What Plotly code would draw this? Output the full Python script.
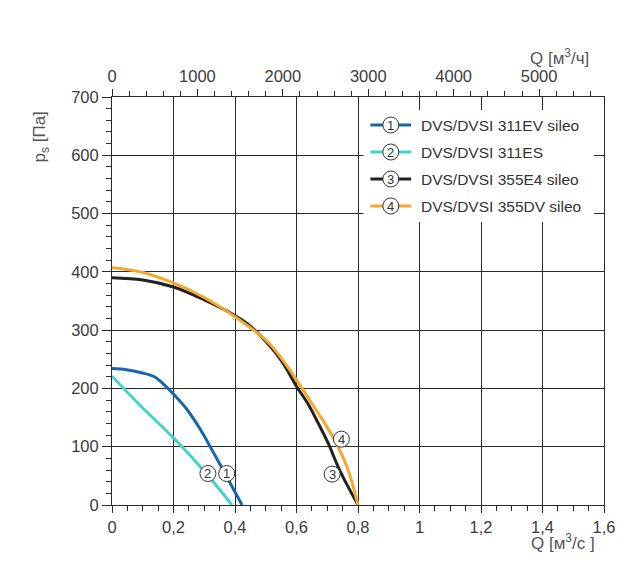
import plotly.graph_objects as go

# ---------------- data ----------------
names = ["DVS/DVSI 311EV sileo", "DVS/DVSI 311ES", "DVS/DVSI 355E4 sileo", "DVS/DVSI 355DV sileo"]
numbers = ["1", "2", "3", "4"]
colors = ["#1667aa", "#3dd5cc", "#222222", "#f4a82e"]

q1 = [0, 0.047, 0.095, 0.138, 0.17, 0.202, 0.245, 0.288, 0.331, 0.385, 0.423]
p1 = [234, 232, 227, 220, 206, 189, 163, 129, 89, 37, 0]

q2 = [0, 0.095, 0.202, 0.31, 0.39]
p2 = [221, 169, 114, 52, 0]

q3 = [0, 0.10, 0.20, 0.30, 0.38, 0.445, 0.51, 0.553, 0.601, 0.639, 0.671, 0.703, 0.735, 0.768, 0.80]
p3 = [390, 386, 374, 352, 331, 309, 275, 246, 203, 172, 140, 106, 66, 31, 0]

q4 = [0, 0.10, 0.20, 0.30, 0.40, 0.51, 0.601, 0.649, 0.692, 0.735, 0.768, 0.80]
p4 = [407, 399, 381, 356, 323, 278, 214, 175, 140, 100, 60, 0]

series_q = [q1, q2, q3, q4]
series_p = [p1, p2, p3, p4]

# curve label positions (Q [m3/s], p [Pa])
label_q = [0.373, 0.312, 0.716, 0.746]
label_p = [54, 54, 53, 113]

x_ticks = [0, 0.2, 0.4, 0.6, 0.8, 1.0, 1.2, 1.4, 1.6]
x_ticktext = ["0", "0,2", "0,4", "0,6", "0,8", "1", "1,2", "1,4", "1,6"]
x2_ticks = [0, 1000, 2000, 3000, 4000, 5000]
y_ticks = [0, 100, 200, 300, 400, 500, 600, 700]

# ---------------- layout helpers ----------------
W, H = 627, 562
L, R, T, B = 112, 607, 97, 505


def px(xp):
    return (xp - L) / (R - L)


def py(yp):
    return (B - yp) / (B - T)


FONT = "Liberation Sans, Arial, sans-serif"
TXT = "#3c3c3c"
AX = "#2a2a2a"

fig = go.Figure()
for q, p, c, n in zip(series_q, series_p, colors, names):
    fig.add_trace(go.Scatter(x=q, y=p, mode="lines", name=n,
                             line=dict(color=c, width=3, shape="spline", smoothing=1.0),
                             showlegend=False, hoverinfo="skip"))
# invisible trace for the top axis (m3/h)
fig.add_trace(go.Scatter(x=[0, 5760], y=[0, 0], xaxis="x2", mode="lines",
                         line=dict(width=0), showlegend=False, hoverinfo="skip"))

shapes = []
annotations = []

# curve labels
for qv, pv, num in zip(label_q, label_p, numbers):
    shapes.append(dict(type="circle", xref="x", yref="y", xsizemode="pixel", ysizemode="pixel",
                       xanchor=qv, yanchor=pv, x0=-8, x1=8, y0=-8, y1=8,
                       fillcolor="white", line=dict(color="#333333", width=1)))
    annotations.append(dict(x=qv, y=pv, xref="x", yref="y", text=num, showarrow=False,
                            xanchor="center", yanchor="middle",
                            font=dict(family=FONT, size=13, color="#333333")))

# custom legend
shapes.append(dict(type="rect", xref="paper", yref="paper", x0=px(365), x1=px(597),
                   y0=py(222), y1=py(110), fillcolor="white", line=dict(width=0)))
rows = [125, 152, 179, 206]
for yr, c, num, n in zip(rows, colors, numbers, names):
    shapes.append(dict(type="line", xref="paper", yref="paper", x0=px(372), x1=px(413),
                       y0=py(yr), y1=py(yr), line=dict(color=c, width=3)))
    shapes.append(dict(type="circle", xref="paper", yref="paper", xsizemode="pixel", ysizemode="pixel",
                       xanchor=px(392.5), yanchor=py(yr), x0=-8, x1=8, y0=-8, y1=8,
                       fillcolor="white", line=dict(color="#333333", width=1)))
    annotations.append(dict(x=px(392.5), y=py(yr), xref="paper", yref="paper", text=num,
                            showarrow=False, xanchor="center", yanchor="middle",
                            font=dict(family=FONT, size=13, color="#333333")))
    annotations.append(dict(x=px(421), y=py(yr), xref="paper", yref="paper", text=n,
                            showarrow=False, xanchor="left", yanchor="middle",
                            font=dict(family=FONT, size=15.5, color="#333333")))

# axis titles
annotations.append(dict(x=px(41), y=py(137), xref="paper", yref="paper",
                        text="p<sub>s</sub> [Па]", textangle=-90, showarrow=False,
                        xanchor="center", yanchor="middle",
                        font=dict(family=FONT, size=17, color="#555555")))
annotations.append(dict(x=px(562), y=py(57), xref="paper", yref="paper",
                        text="Q [м<sup>3</sup>/ч]", showarrow=False, xanchor="center", yanchor="middle",
                        font=dict(family=FONT, size=17, color="#555555")))
annotations.append(dict(x=px(566), y=py(542), xref="paper", yref="paper",
                        text="Q [м<sup>3</sup>/с ]", showarrow=False, xanchor="center", yanchor="middle",
                        font=dict(family=FONT, size=17, color="#555555")))

tickfont = dict(family=FONT, size=16.5, color=TXT)

fig.update_layout(
    width=W, height=H,
    margin=dict(l=L, r=W - R, t=T, b=H - B, pad=0),
    paper_bgcolor="white", plot_bgcolor="white",
    shapes=shapes, annotations=annotations,
    showlegend=False,
    xaxis=dict(range=[0, 1.6], tickvals=x_ticks, ticktext=x_ticktext,
               showgrid=True, gridcolor=AX, gridwidth=1, zeroline=False,
               showline=True, linecolor=AX, linewidth=1,
               ticks="outside", ticklen=7, tickcolor=AX, tickfont=tickfont,
               minor=dict(dtick=0.05, ticks="outside", ticklen=5, tickcolor=AX, showgrid=False)),
    xaxis2=dict(range=[0, 5760], overlaying="x", side="top", anchor="y",
                tickvals=x2_ticks, ticktext=[str(v) for v in x2_ticks],
                showgrid=False, zeroline=False, showline=True, linecolor=AX, linewidth=1,
                ticks="outside", ticklen=7, tickcolor=AX, tickfont=tickfont,
                minor=dict(dtick=200, ticks="outside", ticklen=5, tickcolor=AX, showgrid=False)),
    yaxis=dict(range=[0, 700], tickvals=y_ticks, showgrid=True, gridcolor=AX, gridwidth=1,
               zeroline=False, showline=True, linecolor=AX, linewidth=1, mirror=True,
               ticks="outside", ticklen=9, tickcolor=AX, tickfont=tickfont,
               minor=dict(dtick=20, ticks="outside", ticklen=5, tickcolor=AX, showgrid=False)),
)

fig.write_html("out.html")
